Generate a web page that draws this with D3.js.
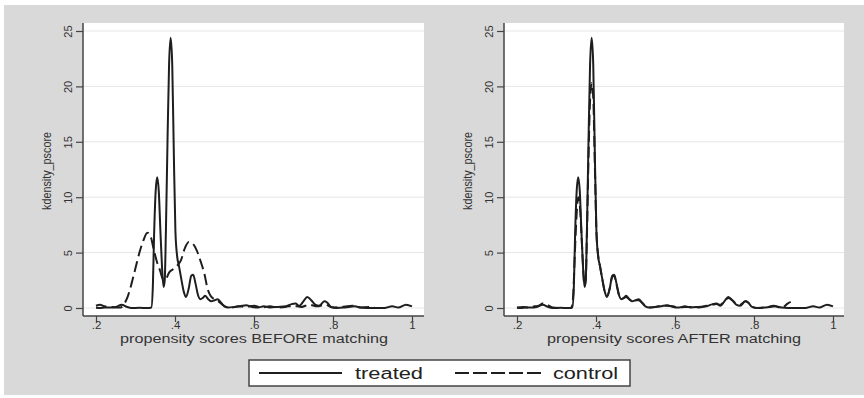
<!DOCTYPE html>
<html>
<head>
<meta charset="utf-8">
<script src="https://cdn.jsdelivr.net/npm/d3@7"></script>
<style>
  body { margin: 0; background: #fff; }
  svg { display: block; font-family: "Liberation Sans", Arial, sans-serif; }
</style>
</head>
<body>
<svg id="chart" width="864" height="398"></svg>
<script>
// propensity score grid points and kernel density
const treatedX = [0.200,0.210,0.222,0.235,0.250,0.265,0.278,0.290,0.310,0.330,0.340,0.344,0.347,0.351,0.355,0.359,0.363,0.367,0.371,0.374,0.377,0.381,0.385,0.389,0.393,0.397,0.401,0.405,0.410,0.416,0.422,0.428,0.435,0.441,0.446,0.452,0.458,0.464,0.470,0.476,0.484,0.492,0.500,0.508,0.516,0.525,0.535,0.550,0.565,0.580,0.595,0.610,0.625,0.640,0.660,0.680,0.695,0.705,0.715,0.725,0.735,0.745,0.755,0.765,0.778,0.785,0.795,0.810,0.830,0.855,0.870,0.900,0.930,0.950,0.965,0.985,1.000];
const treatedY = [0.02,0.0,0.05,0.05,0.1,0.3,0.1,0.0,0.02,0.0,0.05,2.0,6.5,10.5,11.8,10.5,7.0,3.8,1.9,2.5,7.0,15.0,22.0,24.4,22.0,14.0,7.0,4.8,3.8,2.6,1.5,1.0,1.8,2.9,3.0,2.2,1.2,0.8,0.9,1.1,0.8,0.6,0.7,0.8,0.5,0.15,0.05,0.1,0.15,0.25,0.1,0.05,0.15,0.05,0.1,0.15,0.35,0.4,0.2,0.6,1.0,0.7,0.3,0.2,0.6,0.5,0.1,0.0,0.05,0.15,0.05,0.0,0.0,0.15,0.05,0.3,0.15];

const controlBeforeX = [0.200,0.210,0.222,0.235,0.250,0.262,0.270,0.280,0.290,0.300,0.310,0.320,0.330,0.338,0.346,0.354,0.362,0.370,0.376,0.385,0.395,0.405,0.415,0.425,0.435,0.445,0.455,0.465,0.475,0.482,0.490,0.500,0.510,0.520,0.530,0.545,0.560,0.580,0.600,0.620,0.640,0.660,0.680,0.700,0.720,0.740,0.760,0.780,0.800,0.820,0.850,0.870,0.890,0.905];
const controlBeforeY = [0.2,0.3,0.15,0.1,0.05,0.05,0.3,1.0,2.2,3.6,5.0,6.1,6.8,6.5,5.3,4.2,3.4,2.6,2.6,3.2,3.5,3.8,4.3,5.4,5.95,5.8,5.2,4.2,3.0,1.8,1.1,0.8,0.6,0.3,0.1,0.05,0.15,0.1,0.2,0.05,0.15,0.05,0.1,0.2,0.1,0.3,0.15,0.3,0.05,0.1,0.2,0.05,0.1,0.05];

const controlAfterX = [0.200,0.215,0.230,0.245,0.255,0.265,0.275,0.290,0.310,0.330,0.338,0.342,0.346,0.351,0.355,0.359,0.363,0.367,0.371,0.374,0.377,0.381,0.385,0.389,0.393,0.397,0.401,0.405,0.410,0.416,0.422,0.428,0.435,0.441,0.446,0.452,0.458,0.464,0.470,0.476,0.484,0.492,0.500,0.508,0.516,0.525,0.535,0.550,0.565,0.580,0.595,0.610,0.625,0.640,0.660,0.680,0.695,0.705,0.715,0.725,0.735,0.745,0.755,0.765,0.778,0.785,0.795,0.810,0.830,0.850,0.865,0.875,0.885,0.893];
const controlAfterY = [0.05,0.1,0.05,0.15,0.2,0.4,0.3,0.05,0.0,0.0,0.05,1.0,4.5,8.5,10.0,9.3,6.8,3.9,2.0,2.6,6.5,13.5,18.8,20.3,19.0,13.0,7.0,4.9,3.8,2.6,1.5,1.1,1.8,2.8,2.9,2.1,1.2,0.8,0.9,1.0,0.8,0.6,0.7,0.7,0.5,0.2,0.05,0.1,0.2,0.2,0.15,0.05,0.1,0.1,0.05,0.2,0.3,0.35,0.3,0.6,0.9,0.7,0.4,0.3,0.6,0.5,0.1,0.0,0.05,0.2,0.05,0.1,0.4,0.55];

const xTicks = [0.2, 0.4, 0.6, 0.8, 1];
const yTicks = [0, 5, 10, 15, 20, 25];
const yTitle = "kdensity_pscore";
const legendLabels = ["treated", "control"];

const svg = d3.select("#chart");

// outer gray graph region
svg.append("rect")
  .attr("x", 4).attr("y", 5)
  .attr("width", 860).attr("height", 390)
  .attr("fill", "#d9d9d9");

const zip = (xs, ys) => xs.map((x, i) => ({ x: x, y: ys[i] }));

function drawPanel(opts) {
  const x = d3.scaleLinear().domain([0.2, 1]).range([opts.x0, opts.x1]);
  const y = d3.scaleLinear().domain([0, 25]).range([308, 31]);

  const g = svg.append("g");

  // plot region
  g.append("rect")
    .attr("x", opts.left).attr("y", 23)
    .attr("width", opts.right - opts.left).attr("height", 316 - 23)
    .attr("fill", "#fff");

  // gridlines
  g.append("g").selectAll("line")
    .data(yTicks)
    .enter().append("line")
    .attr("x1", opts.left).attr("x2", opts.right)
    .attr("y1", d => y(d)).attr("y2", d => y(d))
    .attr("stroke", "#e6e6e6")
    .attr("stroke-width", 1);

  // y axis
  const yAxis = g.append("g")
    .attr("transform", `translate(${opts.left},0)`)
    .call(d3.axisLeft(y).tickValues(yTicks).tickSize(7).tickSizeOuter(0).tickFormat(d3.format("d")));
  yAxis.select(".domain").remove();
  yAxis.append("line")
    .attr("x1", 0).attr("x2", 0).attr("y1", 23).attr("y2", 316)
    .attr("stroke", "#444").attr("stroke-width", 1.5);
  yAxis.selectAll(".tick line").attr("stroke", "#444").attr("stroke-width", 1.2);
  yAxis.selectAll(".tick text")
    .attr("x", null).attr("dy", null)
    .attr("transform", "translate(-11,0) rotate(-90)")
    .attr("text-anchor", "middle")
    .attr("font-size", 11)
    .attr("fill", "#333");

  // x axis
  const xAxis = g.append("g")
    .attr("transform", "translate(0,316)")
    .call(d3.axisBottom(x).tickValues(xTicks).tickSize(6).tickSizeOuter(0)
      .tickFormat(d => d === 1 ? "1" : d3.format(".1f")(d).replace(/^0/, "")));
  xAxis.select(".domain").remove();
  xAxis.append("line")
    .attr("x1", opts.left).attr("x2", opts.right).attr("y1", 0).attr("y2", 0)
    .attr("stroke", "#444").attr("stroke-width", 1.5);
  xAxis.selectAll(".tick line").attr("stroke", "#444").attr("stroke-width", 1.2);
  xAxis.selectAll(".tick text")
    .attr("y", 13).attr("dy", null)
    .attr("font-size", 11.5)
    .attr("fill", "#333");

  // axis titles
  g.append("text")
    .attr("transform", `translate(${opts.left - 32},171) rotate(-90)`)
    .attr("text-anchor", "middle")
    .attr("font-size", 12)
    .attr("fill", "#333")
    .attr("textLength", 78)
    .attr("lengthAdjust", "spacingAndGlyphs")
    .text(yTitle);

  g.append("text")
    .attr("x", opts.titleX).attr("y", 343)
    .attr("text-anchor", "middle")
    .attr("font-size", 12)
    .attr("fill", "#333")
    .attr("textLength", opts.titleLen)
    .attr("lengthAdjust", "spacingAndGlyphs")
    .text(opts.title);

  const line = d3.line()
    .x(d => x(d.x))
    .y(d => y(d.y))
    .curve(d3.curveMonotoneX);

  g.append("path")
    .datum(zip(opts.controlX, opts.controlY))
    .attr("d", line)
    .attr("fill", "none")
    .attr("stroke", "#1e1e1e")
    .attr("stroke-width", 2)
    .attr("stroke-dasharray", "11,5");

  g.append("path")
    .datum(zip(treatedX, treatedY))
    .attr("d", line)
    .attr("fill", "none")
    .attr("stroke", "#1e1e1e")
    .attr("stroke-width", 2);
}

drawPanel({
  left: 83, right: 424, x0: 96, x1: 412,
  title: "propensity scores BEFORE matching", titleX: 254, titleLen: 268,
  controlX: controlBeforeX, controlY: controlBeforeY
});

drawPanel({
  left: 504, right: 844, x0: 517, x1: 833,
  title: "propensity scores AFTER matching", titleX: 674, titleLen: 254,
  controlX: controlAfterX, controlY: controlAfterY
});

// legend
const legend = svg.append("g");
legend.append("rect")
  .attr("x", 249).attr("y", 360)
  .attr("width", 381).attr("height", 26)
  .attr("fill", "#fff")
  .attr("stroke", "#444")
  .attr("stroke-width", 1.5);

legend.append("line")
  .attr("x1", 259).attr("x2", 342).attr("y1", 373).attr("y2", 373)
  .attr("stroke", "#1e1e1e").attr("stroke-width", 2);
legend.append("text")
  .attr("x", 355).attr("y", 379)
  .attr("font-size", 16).attr("fill", "#222")
  .attr("textLength", 68).attr("lengthAdjust", "spacingAndGlyphs")
  .text(legendLabels[0]);

legend.append("line")
  .attr("x1", 455).attr("x2", 541).attr("y1", 373).attr("y2", 373)
  .attr("stroke", "#1e1e1e").attr("stroke-width", 2)
  .attr("stroke-dasharray", "14,4");
legend.append("text")
  .attr("x", 553).attr("y", 379)
  .attr("font-size", 16).attr("fill", "#222")
  .attr("textLength", 65).attr("lengthAdjust", "spacingAndGlyphs")
  .text(legendLabels[1]);
</script>
</body>
</html>
